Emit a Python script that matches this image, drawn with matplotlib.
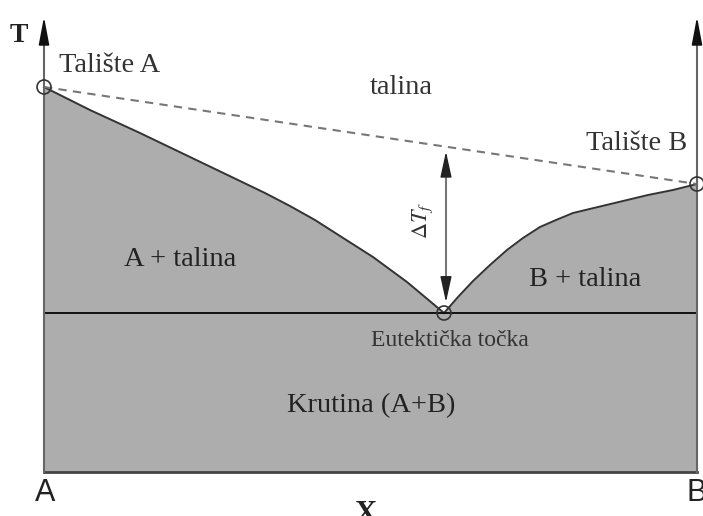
import matplotlib
matplotlib.use("Agg")
import matplotlib.pyplot as plt
from matplotlib.patches import FancyArrowPatch, Ellipse
import numpy as np

plt.rcParams['mathtext.fontset'] = 'stix'

# ---- data (composition x_B from 0 to 1, temperature in arbitrary units) ----
T_melt_A = 385
T_melt_B = 288
T_eut = 159
x_eut = 0.6126

liq_A_x = [0.0, 0.0704, 0.147, 0.2236, 0.3002, 0.3384, 0.3767, 0.415,
           0.4533, 0.5038, 0.5559, 0.6126]
liq_A_T = [385, 362, 339, 315, 291, 279, 266, 252, 236, 215, 190, 159]

liq_B_x = [0.6126, 0.634, 0.657, 0.683, 0.709, 0.7335, 0.7596, 0.7841,
           0.8101, 0.8484, 0.8867, 0.925, 0.9632, 1.0]
liq_B_T = [159, 175, 191, 207, 222, 234, 245, 252, 259, 265, 271, 277, 282, 288]

T_axis_top = 458
x_dT = 0.6156

labels = {
    'talA': 'Talište A', 'talB': 'Talište B', 'talina': 'talina',
    'A_tal': 'A + talina', 'B_tal': 'B + talina',
    'eut': 'Eutektička točka', 'krut': 'Krutina (A+B)',
}

# ---- figure ----
fig = plt.figure(figsize=(7.03, 5.16), dpi=100)
ax = fig.add_axes([0, 0, 1, 1])
ax.set_xlim(-44 / 653, 659 / 653)
ax.set_ylim(-44, 472)
ax.axis('off')

serif = 'Liberation Serif'
sans = 'Liberation Sans'
fill_c = '#adadad'

# fill solid region
cx = np.concatenate([liq_A_x, liq_B_x[1:]])
cT = np.concatenate([liq_A_T, liq_B_T[1:]])
ax.fill_between(cx, 0, cT, color=fill_c, lw=0, zorder=1)

# liquidus curves
ax.plot(liq_A_x, liq_A_T, color='#333333', lw=1.4, zorder=3,
        solid_joinstyle='round')
ax.plot(liq_B_x, liq_B_T, color='#333333', lw=1.4, zorder=3,
        solid_joinstyle='round')

# eutectic line
ax.plot([0, 1], [T_eut, T_eut], color='#111111', lw=1.4, zorder=3)

# bottom line
ax.plot([0, 1], [0, 0], color='#444444', lw=2.0, zorder=3)

# dashed ideal line
ax.plot([0, 1], [T_melt_A, T_melt_B], color='#777777', lw=1.5,
        dashes=(4, 3), zorder=3)

# vertical axes with arrows
for xv in (0, 1):
    ax.plot([xv, xv], [0, T_axis_top - 20], color='#666666', lw=1.5, zorder=3)
    arr = FancyArrowPatch((xv, T_axis_top - 25), (xv, T_axis_top),
                          arrowstyle='-|>,head_length=1.7,head_width=0.32',
                          mutation_scale=10, color='#111111', lw=1.2, zorder=4)
    ax.add_patch(arr)

# delta T arrow
T_dash_at = T_melt_A + (T_melt_B - T_melt_A) * x_dT
ax.plot([x_dT, x_dT], [T_eut + 25, T_dash_at - 25], color='#777777', lw=1.5, zorder=3)
for (a, b) in [((x_dT, T_dash_at - 25), (x_dT, T_dash_at - 2)),
               ((x_dT, T_eut + 33), (x_dT, T_eut + 8))]:
    ax.add_patch(FancyArrowPatch(a, b,
                 arrowstyle='-|>,head_length=1.6,head_width=0.35',
                 mutation_scale=10, color='#222222', lw=1.0, zorder=4))

# circles at melting points and eutectic
for (xc, Tc) in [(0, T_melt_A), (1, T_melt_B), (x_eut, T_eut)]:
    ax.add_patch(Ellipse((xc, Tc), 14 / 653, 14, fill=False,
                         ec='#333333', lw=1.2, zorder=5))

# texts
fs = 20.5
ax.text(0.1, 407, labels['talA'], family=serif, fontsize=fs, color='#333333',
        ha='center', va='center')
ax.text(0.547, 384, labels['talina'], family=serif, fontsize=fs, color='#333333',
        ha='center', va='center')
ax.text(0.908, 328, labels['talB'], family=serif, fontsize=fs, color='#333333',
        ha='center', va='center')
ax.text(0.208, 212, labels['A_tal'], family=serif, fontsize=fs, color='#222222',
        ha='center', va='center')
ax.text(0.828, 193, labels['B_tal'], family=serif, fontsize=fs, color='#222222',
        ha='center', va='center')
ax.text(0.622, 132, labels['eut'], family=serif, fontsize=17, color='#333333',
        ha='center', va='center')
ax.text(0.501, 66, labels['krut'], family=serif, fontsize=fs, color='#222222',
        ha='center', va='center')
ax.text(0.580, 252, r'$\Delta T_f$', fontsize=16, color='#333333',
        ha='center', va='center', rotation=90)
ax.text(-0.038, 436, 'T', family=serif, fontsize=20, fontweight='bold',
        color='#222222', ha='center', va='center')
ax.text(0.492, -28, 'X', family=serif, fontsize=22, fontweight='bold',
        color='#222222', ha='center', va='top')
ax.text(0.0015, -21, 'A', family=sans, fontsize=22, color='#222222',
        ha='center', va='center')
ax.text(1.0, -21, 'B', family=sans, fontsize=22, color='#222222',
        ha='center', va='center')

fig.savefig('out.png', dpi=100)
